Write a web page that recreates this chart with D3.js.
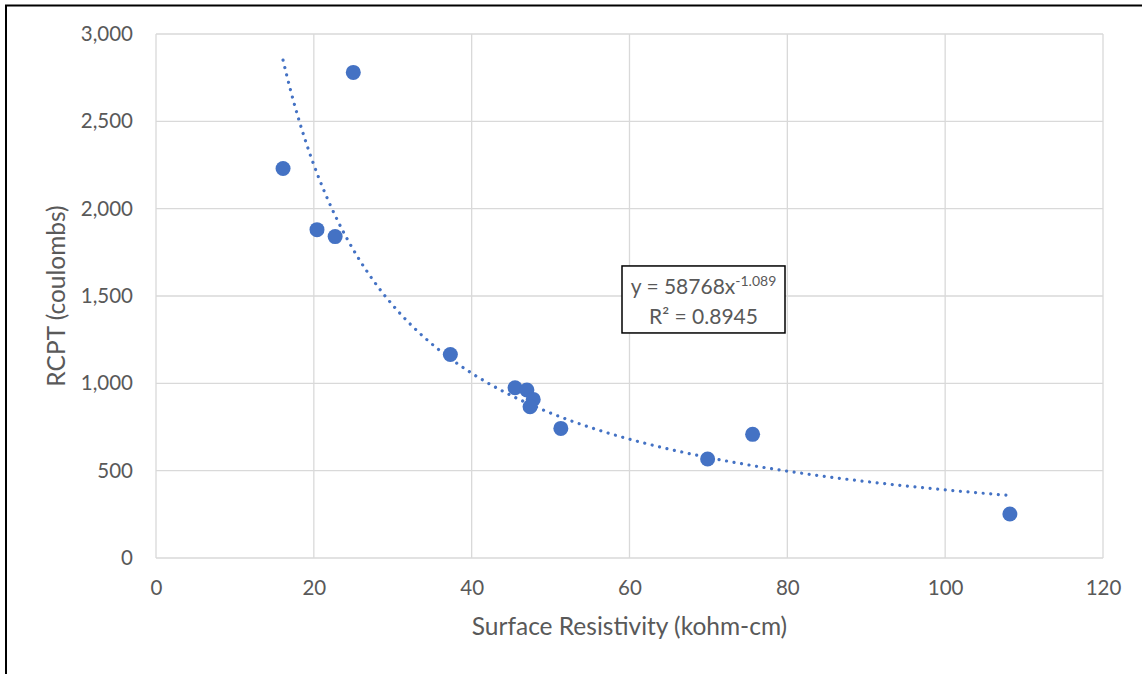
<!DOCTYPE html>
<html>
<head>
<meta charset="utf-8">
<script src="https://cdn.jsdelivr.net/npm/d3@7"></script>
<style>
  html, body { margin: 0; padding: 0; background: #fff; }
  svg { display: block; }
</style>
</head>
<body>
<svg id="chart" width="1142" height="674"></svg>
<script>
// ---- data ----
const resistivity = [25.0, 16.1, 20.4, 22.7, 37.3, 45.5, 47.0, 47.8, 47.4, 51.3, 69.9, 75.6, 108.2];
const rcpt        = [2780, 2230, 1880, 1840, 1165, 975, 962, 908, 866, 742, 567, 708, 252];
const xTicks = [0, 20, 40, 60, 80, 100, 120];
const yTicks = [0, 500, 1000, 1500, 2000, 2500, 3000];
const fitCoef = 58768;
const fitExp = -1.089;
const fitR2 = "0.8945";
const xTitle = "Surface Resistivity (kohm-cm)";
const yTitle = "RCPT (coulombs)";

// ---- layout ----
const W = 1142, H = 674;
const plot = { left: 156, right: 1103, top: 34, bottom: 558 };
const font = "Lato, 'Open Sans', sans-serif";
const textColor = "#595959";
const gridColor = "#d9d9d9";
const blue = "#4472C4";

const svg = d3.select("#chart");

const x = d3.scaleLinear().domain([0, 120]).range([plot.left, plot.right]);
const y = d3.scaleLinear().domain([0, 3000]).range([plot.bottom, plot.top]);

// outer frame (only top and left visible)
svg.append("rect")
  .attr("x", 6).attr("y", 5.5)
  .attr("width", 1300).attr("height", 900)
  .attr("fill", "none").attr("stroke", "#000").attr("stroke-width", 2);

// gridlines
const grid = svg.append("g");
grid.selectAll("line.h").data(yTicks).join("line")
  .attr("x1", plot.left).attr("x2", plot.right)
  .attr("y1", d => y(d)).attr("y2", d => y(d))
  .attr("stroke", gridColor).attr("stroke-width", 1.3);
grid.selectAll("line.v").data(xTicks).join("line")
  .attr("y1", plot.top).attr("y2", plot.bottom)
  .attr("x1", d => x(d)).attr("x2", d => x(d))
  .attr("stroke", gridColor).attr("stroke-width", 1.3);

// axes (labels only)
const yAxis = d3.axisLeft(y).tickValues(yTicks).tickFormat(d3.format(",")).tickSize(0).tickPadding(23);
const gy = svg.append("g").attr("transform", `translate(${plot.left},0)`).call(yAxis);
gy.select(".domain").remove();
gy.selectAll("text").attr("font-family", font).attr("font-size", 20.5).attr("fill", textColor);

const xAxis = d3.axisBottom(x).tickValues(xTicks).tickFormat(d3.format("d")).tickSize(0).tickPadding(22);
const gx = svg.append("g").attr("transform", `translate(0,${plot.bottom})`).call(xAxis);
gx.select(".domain").remove();
gx.selectAll("text").attr("font-family", font).attr("font-size", 20.5).attr("fill", textColor);

// axis titles
svg.append("text")
  .attr("x", (plot.left + plot.right) / 2).attr("y", 635)
  .attr("text-anchor", "middle")
  .attr("font-family", font).attr("font-size", 24.5).attr("fill", textColor)
  .text(xTitle);
svg.append("text")
  .attr("transform", `translate(65,${(plot.top + plot.bottom) / 2}) rotate(-90)`)
  .attr("text-anchor", "middle")
  .attr("font-family", font).attr("font-size", 24.5).attr("fill", textColor)
  .text(yTitle);

// power trendline
const xMin = d3.min(resistivity), xMax = d3.max(resistivity);
const fitX = d3.range(0, 201).map(i => xMin + (xMax - xMin) * i / 200);
const line = d3.line().x(d => x(d)).y(d => y(fitCoef * Math.pow(d, fitExp))).curve(d3.curveLinear);
svg.append("path")
  .datum(fitX)
  .attr("d", line)
  .attr("fill", "none")
  .attr("stroke", blue)
  .attr("stroke-width", 3.2)
  .attr("stroke-linecap", "round")
  .attr("stroke-dasharray", "0.01 7.6");

// points
svg.append("g").selectAll("circle")
  .data(resistivity.map((v, i) => [v, rcpt[i]]))
  .join("circle")
  .attr("cx", d => x(d[0])).attr("cy", d => y(d[1]))
  .attr("r", 7.5)
  .attr("fill", blue);

// equation label box
const bx = x(59.05), by = y(1672);
const box = svg.append("g").attr("transform", `translate(${bx},${by})`);
box.append("rect")
  .attr("x", 0).attr("y", 0).attr("width", 163).attr("height", 67)
  .attr("fill", "#fff").attr("stroke", "#000").attr("stroke-width", 1.5);
const eq = box.append("text")
  .attr("x", 81.5).attr("y", 28)
  .attr("text-anchor", "middle")
  .attr("font-family", font).attr("font-size", 21).attr("fill", textColor);
eq.append("tspan").text(`y = ${fitCoef}x`);
eq.append("tspan").attr("dy", -8).attr("font-size", 14).text(String(fitExp));
box.append("text")
  .attr("x", 81.5).attr("y", 58)
  .attr("text-anchor", "middle")
  .attr("font-family", font).attr("font-size", 21).attr("fill", textColor)
  .text(`R² = ${fitR2}`);
</script>
</body>
</html>
